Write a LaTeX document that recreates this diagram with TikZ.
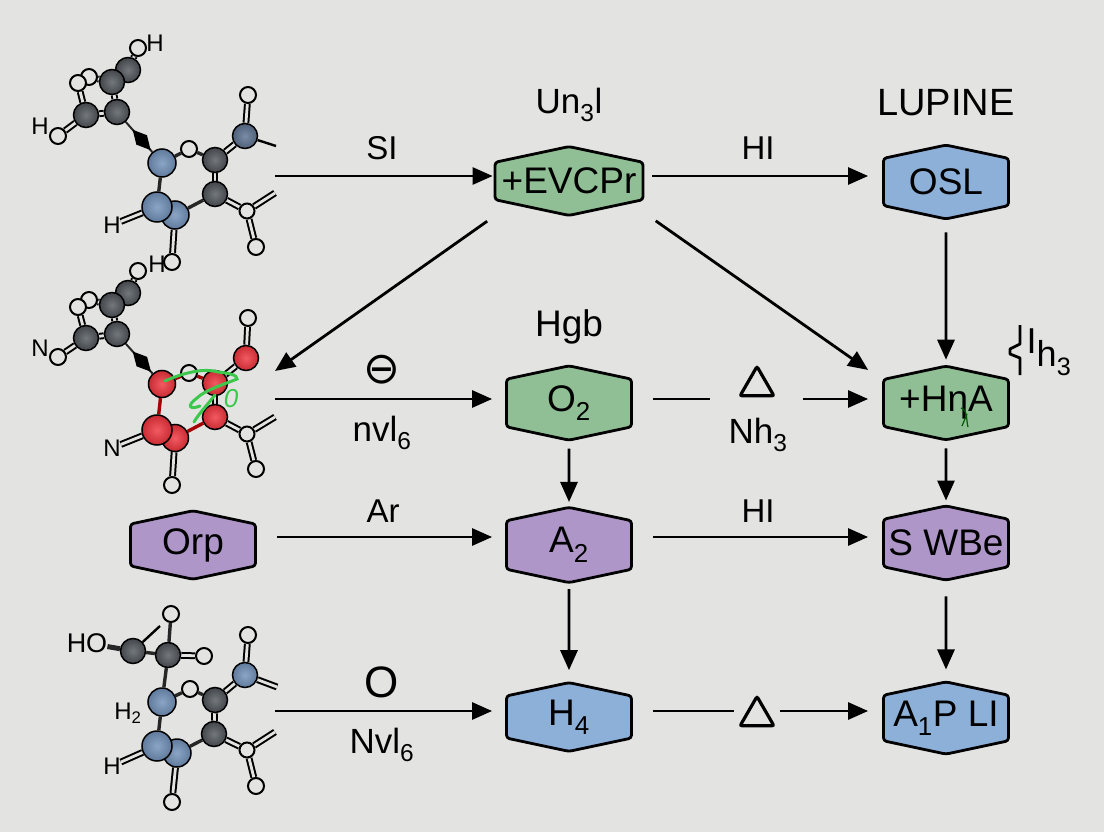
\documentclass[tikz,border=0pt]{standalone}
\usepackage{fontspec}
\setmainfont{Liberation Sans}
\newfontfamily\symfont{DejaVu Sans}
\usepackage{xcolor}
\usetikzlibrary{shapes.geometric, shapes.symbols, arrows.meta, positioning, backgrounds}

\definecolor{paper}{HTML}{E3E4E2}
\definecolor{boxgreen}{HTML}{90BF95}
\definecolor{boxblue}{HTML}{8DB0D9}
\definecolor{boxpurple}{HTML}{AF96C9}
\definecolor{scribble}{HTML}{3CC84C}
\definecolor{graylight}{HTML}{73787D}
\definecolor{graydark}{HTML}{42464A}
\definecolor{bluelight}{HTML}{8CA5C6}
\definecolor{bluedark}{HTML}{5F7A9C}
\definecolor{slatelight}{HTML}{7A8CA6}
\definecolor{slatedark}{HTML}{4F5F78}
\definecolor{redlight}{HTML}{F25A62}
\definecolor{reddark}{HTML}{C92B32}

\begin{document}
\begin{tikzpicture}[
    x=1pt, y=-1pt,
    box/.style={draw, line width=2.8pt, signal, signal to=north and south, signal pointer angle=156,
        rounded corners=3pt, inner sep=0pt, minimum width=125pt, font=\fontsize{37}{40}\selectfont},
    arrow/.style={line width=2.8pt, -{Triangle[length=20pt,width=17pt]}},
    plainline/.style={line width=2.8pt},
    lbl/.style={inner sep=0pt, font=\fontsize{35}{38}\selectfont},
    atomlbl/.style={inner sep=0pt, font=\fontsize{24}{26}\selectfont},
    sym/.style={inner sep=0pt, font=\symfont\fontsize{44}{46}\selectfont},
    trimark/.style={draw, line width=3.2pt, regular polygon, regular polygon sides=3, rounded corners=2pt, inner sep=0pt, minimum size=39pt},
    atom/.style={circle, draw, line width=1.5pt, inner sep=0pt, minimum size=25pt, shading=radial},
    grayatom/.style={atom, inner color=graylight, outer color=graydark},
    slateatom/.style={atom, inner color=slatelight, outer color=slatedark},
    blueatom/.style={atom, minimum size=28pt, inner color=bluelight, outer color=bluedark},
    redatom/.style={atom, minimum size=27pt, inner color=redlight, outer color=reddark},
    oatom/.style={circle, draw, line width=2pt, inner sep=0pt, minimum size=16pt, fill=paper},
    bond/.style={line width=3.4pt, black!85},
    redbond/.style={line width=3.4pt, red!65!black},
    dbond/.style={line width=2pt, double=paper, double distance=2.8pt},
    thinbond/.style={line width=2.4pt},
    wedgemark/.style={diamond, fill=black, inner sep=0pt, minimum width=28pt, minimum height=15pt, sloped},
    scrib/.style={scribble, line width=3pt, line cap=round}
]

% boxes
\node[box, fill=boxgreen, minimum width=148pt, minimum height=66pt] (evcpr) at (569,181) {+EVCPr};
\node[box, fill=boxblue, minimum height=63pt] (osl) at (946,182) {OSL};
\node[box, fill=boxgreen, minimum height=57pt] (otwo) at (569,403) {O\textsubscript{2}};
\node[box, fill=boxgreen, minimum height=67pt] (hna) at (946,403) {+HηA};
\node[box, fill=boxpurple, minimum height=55pt] (orp) at (193,545) {Orp};
\node[box, fill=boxpurple, minimum height=57pt] (atwo) at (569,545) {A\textsubscript{2}};
\node[box, fill=boxpurple, minimum height=72pt] (swbe) at (946,543) {S WBe};
\node[box, fill=boxblue, minimum height=51pt] (hfour) at (569,717) {H\textsubscript{4}};
\node[box, fill=boxblue, minimum height=68pt] (apli) at (946,718) {A\textsubscript{1}P LI};

% titles and labels
\node[lbl] (untitle) at (569,105) {Un\textsubscript{3}l};
\node[lbl, font=\fontsize{38}{40}\selectfont] (lupine) at (946,103) {LUPINE};
\node[lbl, font=\fontsize{37}{40}\selectfont] (hgb) at (569,327) {Hgb};
\node[lbl, font=\fontsize{33}{36}\selectfont] (si) at (382,148) {SI};
\node[lbl, font=\fontsize{33}{36}\selectfont] (hitop) at (758,148) {HI};
\node[sym] (minus) at (382,370) {⊖};
\node[lbl] (nvlb) at (382,433) {nvl\textsubscript{6}};
\node[trimark] (trib) at (757,386) {};
\node[lbl] (nhb) at (758,435) {Nh\textsubscript{3}};
\node[lbl, font=\fontsize{33}{36}\selectfont] (ar) at (383,511) {Ar};
\node[lbl, font=\fontsize{33}{36}\selectfont] (himid) at (758,511) {HI};
\node[lbl, font=\fontsize{44}{46}\selectfont] (oh) at (382,682) {O};
\node[lbl] (nvld) at (382,745) {Nvl\textsubscript{6}};
\node[trimark] (trid) at (757,716) {};
\node[lbl, font=\fontsize{36}{38}\selectfont] (ihthree) at (1049,352) {\raisebox{13pt}{I}h\textsubscript{3}};

% free ends
\coordinate (mola) at (275,176);
\coordinate (molbin) at (275,371);
\coordinate (molb) at (275,399);
\coordinate (mold) at (275,711);
\coordinate (gapl) at (710,399);
\coordinate (gapr) at (803,399);

% connectors
\draw[arrow, shorten >=1pt] (mola) -- (mola -| evcpr.west);
\draw[arrow, shorten <=8pt, shorten >=14pt] (mola -| evcpr.east) -- (mola -| osl.west);
\draw[arrow, shorten <=12pt, shorten >=5pt] (osl) -- (hna);
\draw[arrow, shorten <=29pt] (evcpr.202) -- (molbin);
\draw[arrow, shorten <=30pt, shorten >=17pt] (evcpr.-20.4) -- (hna.160);
\draw[arrow, shorten >=13pt] (molb) -- (molb -| otwo.west);
\draw[plainline, shorten <=20pt] (molb -| otwo.east) -- (gapl);
\draw[arrow, shorten >=14pt] (gapr) -- (gapr -| hna.west);
\draw[arrow, shorten <=7pt, shorten >=4pt] (otwo) -- (atwo);
\draw[arrow, shorten <=20pt, shorten >=13pt] ([yshift=8pt]orp.east) -- ([yshift=8pt]atwo.west);
\draw[arrow, shorten <=20pt, shorten >=14pt] ([yshift=8pt]atwo.east) -- ([yshift=6pt]swbe.west);
\draw[arrow, shorten <=7pt, shorten >=4pt] (hna) -- (swbe);
\draw[arrow, shorten <=5pt, shorten >=11pt] (atwo) -- (hfour);
\draw[arrow, shorten <=15pt, shorten >=11pt] (swbe) -- (apli);
\draw[arrow, shorten >=13pt] (mold) -- (mold -| hfour.west);
\draw[plainline, shorten <=20pt, shorten >=10pt] (mold -| hfour.east) -- (mold -| trid.west);
\draw[arrow, shorten <=10pt, shorten >=14pt] (mold -| trid.east) -- (mold -| apli.west);

% side mark next to the +HηA box
\draw[line width=2.8pt, line join=round] (1020,325) -- (1020,344) -- (1010,349) -- (1010,354) -- (1020,358) -- (1020,375);
\draw[green!35!black, line width=1.2pt] (961,408) .. controls (968,410) and (966,420) .. (968,427) (967,414) -- (962,426);

% first molecule
\node[oatom] (ao) at (138,48) {};
\node[grayatom] (ac) at (128,70) {};
\node[grayatom] (ad) at (112,82) {};
\node[oatom] (ae) at (89,77) {};
\node[oatom] (af) at (78,83) {};
\node[grayatom] (ag) at (86,115) {};
\node[grayatom] (ah) at (117,112) {};
\node[oatom] (ai) at (58,136) {};
\node[oatom] (aj) at (189,149) {};
\node[blueatom] (ak) at (162,163) {};
\node[grayatom] (al) at (215,160) {};
\node[slateatom] (am) at (245,136) {};
\node[oatom] (an) at (248,95) {};
\node[grayatom] (ap) at (215,194) {};
\node[oatom, minimum size=15pt] (aq) at (247,211) {};
\node[oatom] (ar1) at (256,247) {};
\node[blueatom] (as) at (175,215) {};
\node[blueatom, minimum size=30pt] (at1) at (157,207) {};
\node[oatom] (au) at (172,262) {};
\node[atomlbl] (ahtop) at (155,43) {H};
\node[atomlbl] (ahleft) at (40,126) {H};
\node[atomlbl] (ahlow) at (112,225) {H};
\coordinate (aend) at (276,146);
\coordinate (aenda) at (275,193);
\begin{scope}[on background layer]
\fill[paper] (0,0) rectangle (1104,832);
\draw[dbond] (ao) -- (ac);
\draw[dbond] (ac) -- (ad);
\draw[dbond] (ad) -- (ae);
\draw[dbond] (af) -- (ag);
\draw[dbond] (ag) -- (ah);
\draw[dbond] (ad) -- (ah);
\draw[dbond] (ag) -- (ai);
\draw[bond, line width=2pt] (ah) -- (ak) node[pos=0.6, wedgemark] (aw) {};
\draw[bond] (ak) -- (aj);
\draw[bond] (aj) -- (al);
\draw[dbond] (al) -- (am);
\draw[dbond] (al) -- (ap);
\draw[dbond] (am) -- (an);
\draw[thinbond] (am) -- (aend);
\draw[dbond] (ap) -- (aq);
\draw[dbond] (aq) -- (aenda);
\draw[dbond] (aq) -- (ar1);
\draw[bond] (ak) -- (at1);
\draw[bond] (ap) -- (as);
\draw[dbond] (as) -- (au);
\draw[dbond] (at1) -- (ahlow);
\end{scope}

% second molecule
\node[oatom] (bo) at (138,271) {};
\node[grayatom] (bc) at (128,293) {};
\node[grayatom] (bd) at (112,305) {};
\node[oatom] (be) at (89,300) {};
\node[oatom] (bf) at (78,307) {};
\node[grayatom] (bg) at (86,338) {};
\node[grayatom] (bh) at (117,334) {};
\node[oatom] (bi) at (58,357) {};
\node[oatom] (bj) at (189,373) {};
\node[redatom] (bk) at (162,384) {};
\node[redatom, minimum size=25pt] (bl) at (215,383) {};
\node[redatom, minimum size=25pt] (bm) at (246,358) {};
\node[oatom] (bn) at (248,318) {};
\node[redatom, minimum size=25pt] (bp) at (215,417) {};
\node[oatom, minimum size=15pt] (bq) at (247,434) {};
\node[oatom] (br) at (256,469) {};
\node[redatom] (bs) at (175,438) {};
\node[redatom, minimum size=30pt] (bt) at (157,430) {};
\node[oatom] (bu) at (172,485) {};
\node[atomlbl] (bhtop) at (157,264) {H};
\node[atomlbl] (bnleft) at (40,348) {N};
\node[atomlbl] (bnlow) at (112,448) {N};
\coordinate (bend) at (275,417);
\begin{scope}[on background layer]
\draw[dbond] (bo) -- (bc);
\draw[dbond] (bc) -- (bd);
\draw[dbond] (bd) -- (be);
\draw[dbond] (bf) -- (bg);
\draw[dbond] (bg) -- (bh);
\draw[dbond] (bd) -- (bh);
\draw[dbond] (bg) -- (bi);
\draw[bond, line width=2pt] (bh) -- (bk) node[pos=0.6, wedgemark] (bw) {};
\draw[redbond] (bk) -- (bj);
\draw[redbond] (bj) -- (bl);
\draw[dbond] (bl) -- (bm);
\draw[dbond] (bl) -- (bp);
\draw[dbond] (bm) -- (bn);
\draw[dbond] (bp) -- (bq);
\draw[dbond] (bq) -- (bend);
\draw[dbond] (bq) -- (br);
\draw[redbond] (bk) -- (bt);
\draw[redbond] (bp) -- (bs);
\draw[dbond] (bs) -- (bu);
\draw[dbond] (bt) -- (bnlow);
\end{scope}

% green marks over the second molecule
\draw[scrib] (165,381) .. controls (185,372) and (205,368) .. (218,372) .. controls (228,373) and (238,375) .. (237,379) .. controls (225,384) and (205,390) .. (197,398) .. controls (186,406) and (190,410) .. (200,406) (215,395) .. controls (207,405) and (198,415) .. (194,422);
\node[inner sep=0pt, text=scribble, font=\itshape\fontsize{26}{28}\selectfont] (bzero) at (231,399) {0};

% third molecule
\node[grayatom] (cc) at (133,651) {};
\node[grayatom] (cd) at (168,655) {};
\node[oatom] (co) at (171,614) {};
\node[oatom] (ce) at (204,656) {};
\node[oatom] (cj) at (190,689) {};
\node[blueatom] (ck) at (162,702) {};
\node[grayatom] (cl) at (215,700) {};
\node[blueatom, minimum size=25pt] (cm) at (245,675) {};
\node[oatom] (cn) at (248,635) {};
\node[grayatom] (cp) at (214,734) {};
\node[oatom, minimum size=15pt] (cq) at (247,750) {};
\node[oatom] (cr) at (256,786) {};
\node[blueatom] (cs) at (177,753) {};
\node[blueatom, minimum size=30pt] (ct) at (157,746) {};
\node[oatom] (cu) at (172,802) {};
\node[atomlbl, font=\fontsize{27}{29}\selectfont] (cho) at (87,643) {HO};
\node[atomlbl] (chtwo) at (128,713) {H\textsubscript{2}};
\node[atomlbl] (chlow) at (112,766) {H};
\coordinate (cbranch) at (160,626);
\coordinate (cend) at (277,687);
\coordinate (cenda) at (275,732);
\begin{scope}[on background layer]
\draw[bond, line width=5pt] (cho) -- (cc);
\draw[bond] (cc) -- (cd);
\draw[thinbond] (cc) -- (cbranch);
\draw[bond] (cd) -- (co);
\draw[dbond] (cd) -- (ce);
\draw[bond] (cd) -- (ck);
\draw[bond] (ck) -- (cj);
\draw[bond] (cj) -- (cl);
\draw[dbond] (cl) -- (cm);
\draw[dbond] (cl) -- (cp);
\draw[dbond] (cm) -- (cn);
\draw[dbond] (cm) -- (cend);
\draw[dbond] (cp) -- (cq);
\draw[dbond] (cq) -- (cenda);
\draw[dbond] (cq) -- (cr);
\draw[bond] (ck) -- (ct);
\draw[bond] (cp) -- (cs);
\draw[dbond] (cs) -- (cu);
\draw[dbond] (ct) -- (chlow);
\end{scope}

\useasboundingbox (0,0) rectangle (1104,832);
\end{tikzpicture}
\end{document}
